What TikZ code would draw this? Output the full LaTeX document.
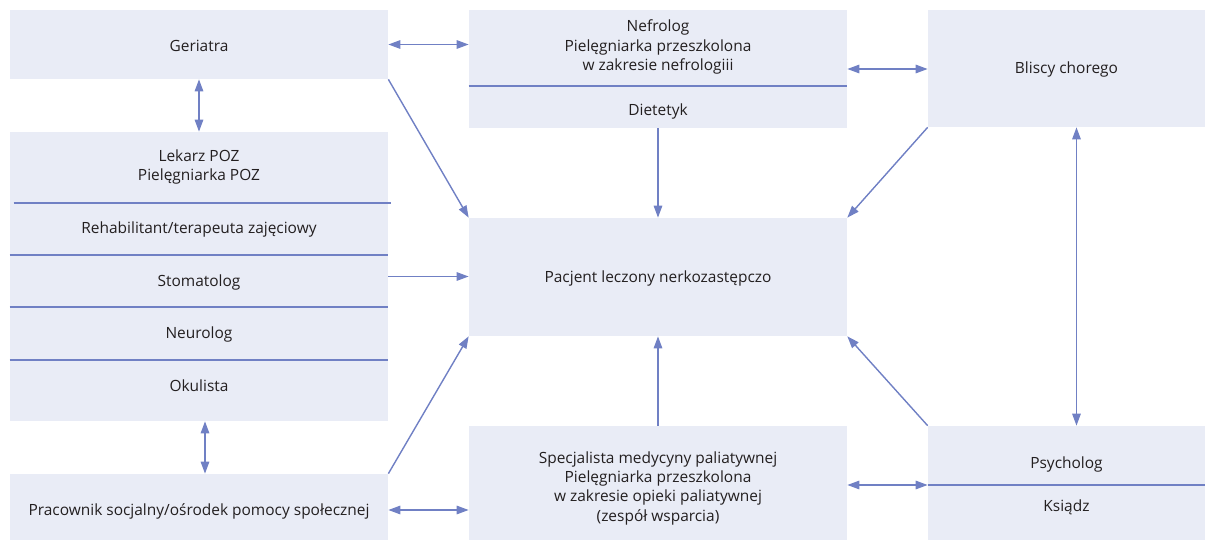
\documentclass[tikz,border=0pt]{standalone}
\usepackage{fontspec}
\setmainfont{Open Sans}
\usetikzlibrary{arrows.meta}

\definecolor{boxfill}{HTML}{E9ECF6}
\definecolor{linkblue}{HTML}{7080C4}
\definecolor{txt}{HTML}{231F20}

\def\px{0.02cm}

\tikzset{
  box/.style={fill=boxfill, inner sep=0pt},
  lbl/.style={align=center, text=txt, inner sep=0pt, font=\fontsize{8.8}{11}\selectfont},
  sep/.style={draw=linkblue, line width=0.8pt},
  tip/.tip={Triangle[length=0.24cm,width=0.17cm]},
  link/.style={draw=linkblue, line width=0.8pt, -tip},
  dlink/.style={draw=linkblue, line width=0.8pt, tip-tip},
}

\begin{document}
\begin{tikzpicture}[x=\px,y=-\px]
\useasboundingbox (0,0) rectangle (1215,541);

\node[box, minimum width=378*\px, minimum height=69*\px] (ger) at (199,44.5) {};
\node[box, minimum width=378*\px, minimum height=118*\px] (nef) at (658,69) {};
\node[box, minimum width=277*\px, minimum height=117*\px] (bli) at (1066.5,68.5) {};
\node[box, minimum width=378*\px, minimum height=289*\px] (lft) at (199,276.5) {};
\node[box, minimum width=378*\px, minimum height=118*\px] (pac) at (658,277) {};
\node[box, minimum width=378*\px, minimum height=66*\px] (pra) at (199,507) {};
\node[box, minimum width=378*\px, minimum height=114*\px] (spe) at (658,483) {};
\node[box, minimum width=277*\px, minimum height=114*\px] (psy) at (1066.5,483) {};

\draw[sep] (nef.west |- 0,86) -- (nef.east |- 0,86);
\draw[sep] ([xshift=4*\px]lft.west |- 0,203) -- ([xshift=3*\px]lft.east |- 0,203);
\foreach \yy in {255,307,360}
  \draw[sep] (lft.west |- 0,\yy) -- (lft.east |- 0,\yy);
\draw[sep] (psy.west |- 0,485) coordinate (psyW) -- (psy.east |- 0,485);

\node[lbl] (gerT) at (199,46) {Geriatra};
\node[lbl] (nefT) at (658,47) {Nefrolog\\Pielęgniarka przeszkolona\\w zakresie nefrologiii};
\node[lbl] (dieT) at (658,111) {Dietetyk};
\node[lbl] (bliT) at (1066.5,69) {Bliscy chorego};
\node[lbl] (pozT) at (199,167) {Lekarz POZ\\Pielęgniarka POZ};
\node[lbl] (rehT) at (199,229) {Rehabilitant/terapeuta zajęciowy};
\node[lbl] (stoT) at (199,282) {Stomatolog};
\node[lbl] (neuT) at (199,334) {Neurolog};
\node[lbl] (okuT) at (199,386) {Okulista};
\node[lbl] (pacT) at (658,278) {Pacjent leczony nerkozastępczo};
\node[lbl] (praT) at (199,511) {Pracownik socjalny/ośrodek pomocy społecznej};
\node[lbl] (speT) at (658,488) {Specjalista medycyny paliatywnej\\Pielęgniarka przeszkolona\\w zakresie opieki paliatywnej\\(zespół wsparcia)};
\node[lbl] (psyT) at (1066.5,464) {Psycholog};
\node[lbl] (ksiT) at (1066.5,507) {Ksiądz};

\draw[dlink] (ger.east) -- (ger.east -| nef.west);
\draw[dlink] (nef.east) -- (nef.east -| bli.west);
\draw[dlink] (ger.south) -- (lft.north);
\draw[dlink] ([xshift=6*\px]lft.south) -- ([xshift=6*\px]pra.north);
\draw[dlink] ([yshift=-3*\px]pra.east) -- ([yshift=-3*\px]pra.east -| spe.west);
\draw[dlink] (psyW -| spe.east) -- (psyW);
\draw[dlink] ([xshift=10*\px]bli.south) -- ([xshift=10*\px]psy.north);

\draw[link] (ger.south east) -- (pac.north west);
\draw[link] (nef.south) -- (pac.north);
\draw[link] (bli.south west) -- (pac.north east);
\draw[link] (lft.east) -- (lft.east -| pac.west);
\draw[link] (pra.north east) -- (pac.south west);
\draw[link] (spe.north) -- (pac.south);
\draw[link] (psy.north west) -- (pac.south east);

\end{tikzpicture}
\end{document}
